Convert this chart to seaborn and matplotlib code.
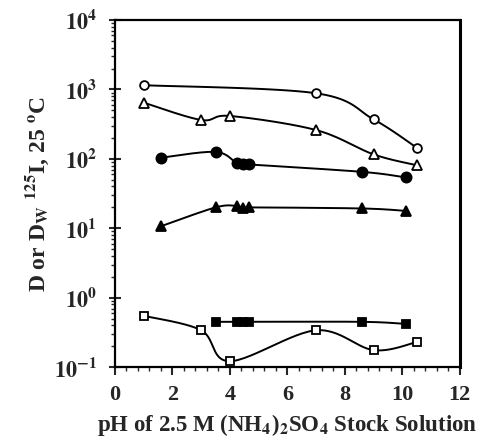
import numpy as np
import pandas as pd
import matplotlib
matplotlib.use("Agg")
import matplotlib.pyplot as plt
from matplotlib.ticker import FixedLocator, MultipleLocator, LogLocator, NullFormatter
import seaborn as sns

# data (pH, D)
ph_open_circ = [1.0, 7.0, 9.0, 10.5]
d_open_circ = [1150, 880, 370, 145]

ph_open_tri = [1.0, 3.0, 4.0, 7.0, 9.0, 10.5]
d_open_tri = [645, 363, 415, 260, 116, 81]

ph_fill_circ = [1.6, 3.5, 4.23, 4.44, 4.66, 8.6, 10.12]
d_fill_circ = [104, 126, 87, 83, 83, 65, 54]

ph_fill_tri = [1.6, 3.5, 4.23, 4.44, 4.66, 8.6, 10.12]
d_fill_tri = [10.7, 20, 21, 19.6, 20, 19.3, 17.8]

ph_fill_sq = [3.5, 4.23, 4.44, 4.66, 8.6, 10.12]
d_fill_sq = [0.45, 0.45, 0.45, 0.45, 0.45, 0.42]

ph_open_sq = [1.0, 3.0, 4.0, 7.0, 9.0, 10.5]
d_open_sq = [0.55, 0.34, 0.122, 0.34, 0.176, 0.23]

x_ticks = [0, 2, 4, 6, 8, 10, 12]
y_ticks = [0.1, 1, 10, 100, 1000, 10000]
y_tick_labels = [r"$\mathbf{10^{-1}}$", r"$\mathbf{10^{0}}$", r"$\mathbf{10^{1}}$",
                 r"$\mathbf{10^{2}}$", r"$\mathbf{10^{3}}$", r"$\mathbf{10^{4}}$"]


def smooth(xs, ys, n=30):
    # catmull-rom through the points, in (x, log y) space, just for drawing the curve
    x = np.asarray(xs, float)
    y = np.log10(np.asarray(ys, float))
    px = np.concatenate([[x[0]], x, [x[-1]]])
    py = np.concatenate([[y[0]], y, [y[-1]]])
    out_x, out_y = [], []
    t = np.linspace(0, 1, n)
    for i in range(1, len(px) - 2):
        for p, out in ((px, out_x), (py, out_y)):
            p0, p1, p2, p3 = p[i - 1], p[i], p[i + 1], p[i + 2]
            v = 0.5 * ((2 * p1) + (-p0 + p2) * t + (2 * p0 - 5 * p1 + 4 * p2 - p3) * t ** 2
                       + (-p0 + 3 * p1 - 3 * p2 + p3) * t ** 3)
            out.extend(v)
    return np.array(out_x), 10 ** np.array(out_y)


sns.set_style("ticks")
plt.rcParams["font.family"] = ["Liberation Serif", "DejaVu Serif"]
plt.rcParams["font.weight"] = "bold"
plt.rcParams["mathtext.fontset"] = "stix"

fig = plt.figure(figsize=(4.83, 4.44), dpi=100)
ax = fig.add_axes([0.238, 0.173, 0.714, 0.782])

series = [
    (ph_open_circ, d_open_circ, "o", "white", 6.3),
    (ph_open_tri, d_open_tri, "^", "white", 6.5),
    (ph_fill_circ, d_fill_circ, "o", "black", 7.3),
    (ph_fill_tri, d_fill_tri, "^", "black", 7.3),
    (ph_fill_sq, d_fill_sq, "s", "black", 6.0),
    (ph_open_sq, d_open_sq, "s", "white", 5.6),
]

for i, (xs, ys, mk, fc, ms) in enumerate(series):
    sx, sy = smooth(xs, ys)
    df = pd.DataFrame({"pH": sx, "D": sy})
    sns.lineplot(data=df, x="pH", y="D", ax=ax, color="black", lw=1.4,
                 sort=False, estimator=None)
    ax.plot(xs, ys, linestyle="none", marker=mk, mfc=fc, mec="black",
            mew=1.3, ms=ms, zorder=3)

ax.set_yscale("log")
ax.set_xlim(0, 12)
ax.set_ylim(0.1, 10000)
ax.xaxis.set_major_locator(FixedLocator(x_ticks))
ax.xaxis.set_minor_locator(MultipleLocator(0.4))
ax.set_xticklabels([str(v) for v in x_ticks])
ax.yaxis.set_major_locator(FixedLocator(y_ticks))
ax.set_yticklabels(y_tick_labels)
ax.yaxis.set_minor_locator(LogLocator(base=10, subs=np.arange(2, 10)))
ax.yaxis.set_minor_formatter(NullFormatter())

for s in ax.spines.values():
    s.set_linewidth(1.6)
    s.set_color("black")
ax.spines["right"].set_linewidth(2.2)

ax.tick_params(axis="x", which="major", direction="out", length=6, width=1.5,
               labelsize=16, pad=7)
ax.tick_params(axis="x", which="minor", direction="out", length=3, width=1)
ax.tick_params(axis="y", which="major", direction="inout", length=8, width=1.5,
               labelsize=16, pad=9)
ax.tick_params(axis="y", which="minor", direction="out", length=3, width=1)

ax.set_xlabel(r"pH of 2.5 M (NH$_\mathbf{4}$)$_\mathbf{2}$SO$_\mathbf{4}$ Stock Solution",
              fontsize=16.5, fontweight="bold", labelpad=5)
ax.set_ylabel(r"D or D$_\mathbf{W}$ $^{\mathbf{125}}$I, 25 $^\mathbf{o}$C",
              fontsize=17, fontweight="bold", labelpad=2)

fig.savefig("out.png", dpi=100)
